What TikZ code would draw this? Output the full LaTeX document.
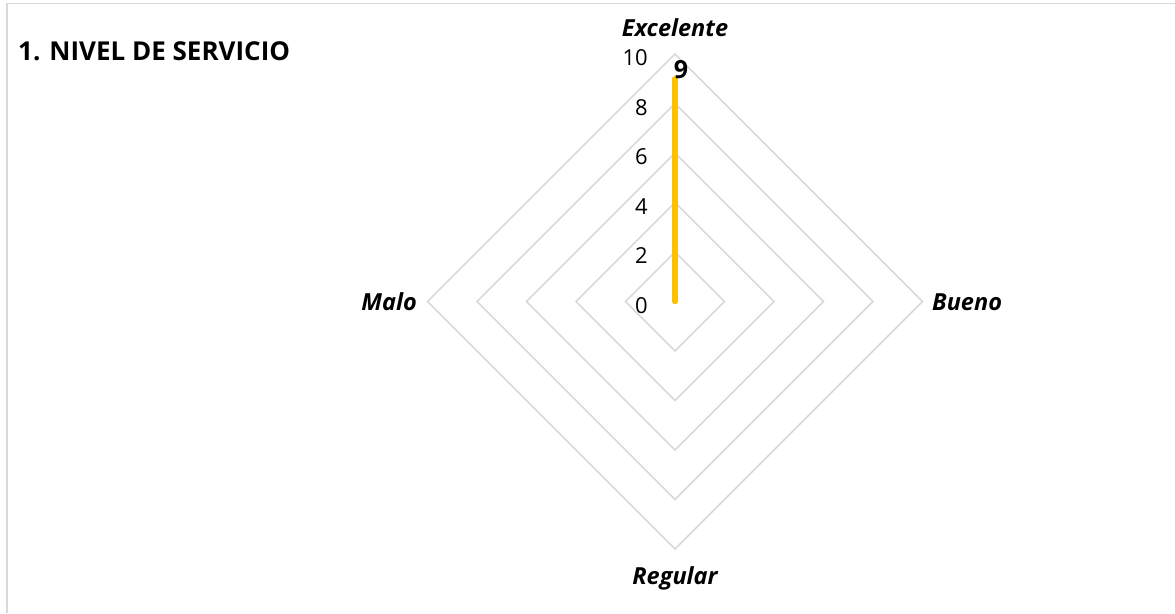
\documentclass[tikz,border=0pt]{standalone}
\usepackage{fontspec}
\setmainfont{Open Sans}
\usetikzlibrary{positioning}
\definecolor{gridgray}{HTML}{D9D9D9}
\definecolor{seriesyellow}{HTML}{FFC000}
\tikzset{
  titlenode/.style = {font=\fontsize{26}{30}\selectfont\bfseries,
                      anchor=west, inner sep=0pt},
  axislabel/.style = {font=\fontsize{23.5}{28}\selectfont\bfseries\itshape,
                      inner sep=0pt},
  ticklabel/.style = {font=\fontsize{22}{26}\selectfont,
                      anchor=east, inner sep=0pt},
  valuelabel/.style = {font=\fontsize{25}{29}\selectfont\bfseries,
                       inner sep=0pt},
  gridline/.style  = {draw=gridgray, line width=1.5pt},
  series/.style    = {draw=seriesyellow, line width=5.5pt, line cap=round},
  frameline/.style = {draw=gridgray, line width=1.5pt}
}
\begin{document}
\begin{tikzpicture}[x=1pt, y=-1pt]
  \useasboundingbox (0,0) rectangle (1175,613);

  % frame of the chart area
  \coordinate (fbl) at (7,613);
  \coordinate (ftl) at (7,3.5);
  \coordinate (ftr) at (1175,3.5);
  \draw[frameline] (fbl) -- (ftl) -- (ftr);

  \node[titlenode] (titulo) at (18,51) {1. NIVEL DE SERVICIO};

  % centre of the radar
  \coordinate (c) at (675,301.5);

  % grid rings
  \foreach \v in {2,4,...,10}{
    \pgfmathsetmacro\rr{24.75*\v}
    \draw[gridline, shift={(c)}] (0,-\rr) -- (\rr,0) -- (0,\rr) -- (-\rr,0) -- cycle;
  }

  % scale
  \foreach \v in {0,2,...,10}{
    \node[ticklabel] (tick\v) at (648,{305.5-24.75*\v}) {\v};
  }

  % categories
  \node[axislabel] (excelente) at (675,28) {Excelente};
  \node[axislabel, anchor=west] (bueno) at (932,302) {Bueno};
  \node[axislabel] (regular) at (675,578) {Regular};
  \node[axislabel, anchor=east] (malo) at (417,302) {Malo};

  % data
  \coordinate (p9) at (675,{301.5-24.75*9});
  \draw[series] (c) -- (p9);
  \node[valuelabel] (val) at (681,70) {9};
\end{tikzpicture}
\end{document}
